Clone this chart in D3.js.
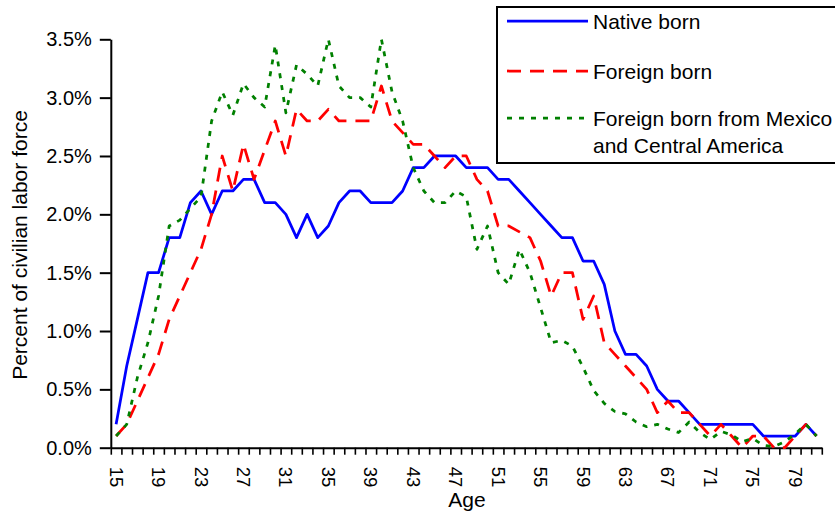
<!DOCTYPE html>
<html>
<head>
<meta charset="utf-8">
<script src="https://cdn.jsdelivr.net/npm/d3@7"></script>
<style>
  body { margin: 0; background: #fff; }
  svg { display: block; font-family: 'Liberation Sans', Arial, sans-serif; }
</style>
</head>
<body>
<svg id="chart" width="835" height="513"></svg>
<script>
// ages on the category axis
const ages = [15, 16, 17, 18, 19, 20, 21, 22, 23, 24, 25, 26, 27, 28, 29, 30,
    31, 32, 33, 34, 35, 36, 37, 38, 39, 40, 41, 42, 43, 44, 45, 46, 47, 48,
    49, 50, 51, 52, 53, 54, 55, 56, 57, 58, 59, 60, 61, 62, 63, 64, 65, 66,
    67, 68, 69, 70, 71, 72, 73, 74, 75, 76, 77, 78, 79, 80, 81];

const xLabels = [15, 19, 23, 27, 31, 35, 39, 43, 47, 51, 55, 59, 63, 67, 71, 75, 79];
const yTicks = [0, 0.5, 1, 1.5, 2, 2.5, 3, 3.5];

// percent of civilian labor force, one value per age
const nativeBorn = [0.2, 0.7, 1.1, 1.5, 1.5, 1.8, 1.8, 2.1, 2.2, 2.0, 2.2, 2.2,
    2.3, 2.3, 2.1, 2.1, 2.0, 1.8, 2.0, 1.8, 1.9, 2.1, 2.2, 2.2, 2.1, 2.1, 2.1,
    2.2, 2.4, 2.4, 2.5, 2.5, 2.5, 2.4, 2.4, 2.4, 2.3, 2.3, 2.2, 2.1, 2.0, 1.9,
    1.8, 1.8, 1.6, 1.6, 1.4, 1.0, 0.8, 0.8, 0.7, 0.5, 0.4, 0.4, 0.3, 0.2, 0.2,
    0.2, 0.2, 0.2, 0.2, 0.1, 0.1, 0.1, 0.1, 0.2, 0.1];

const foreignBorn = [0.1, 0.2, 0.4, 0.6, 0.8, 1.1, 1.3, 1.5, 1.7, 2.0, 2.5, 2.2,
    2.6, 2.3, 2.55, 2.8, 2.5, 2.9, 2.8, 2.8, 2.9, 2.8, 2.8, 2.8, 2.8, 3.1, 2.8,
    2.7, 2.6, 2.6, 2.5, 2.4, 2.5, 2.5, 2.3, 2.2, 1.9, 1.9, 1.85, 1.8, 1.6, 1.3,
    1.5, 1.5, 1.1, 1.3, 0.9, 0.8, 0.7, 0.6, 0.5, 0.3, 0.4, 0.3, 0.3, 0.2, 0.1,
    0.2, 0.1, 0.0, 0.1, 0.1, 0.0, 0.0, 0.1, 0.2, 0.1];

const mexicoCentralAmerica = [0.1, 0.2, 0.6, 0.9, 1.3, 1.9, 1.95, 2.05, 2.15,
    2.8, 3.05, 2.85, 3.12, 3.0, 2.92, 3.45, 2.87, 3.28, 3.2, 3.1, 3.5, 3.1, 3.0,
    3.0, 2.92, 3.5, 3.05, 2.8, 2.4, 2.2, 2.1, 2.1, 2.2, 2.15, 1.7, 1.9, 1.5,
    1.4, 1.7, 1.5, 1.2, 0.9, 0.92, 0.87, 0.69, 0.49, 0.38, 0.31, 0.29, 0.22,
    0.18, 0.2, 0.16, 0.13, 0.22, 0.13, 0.07, 0.14, 0.11, 0.05, 0.08, 0.02, 0.01,
    0.05, 0.12, 0.2, 0.1];

const series = [
    {name: ['Native born'], values: nativeBorn, color: '#0000ff', dash: null},
    {name: ['Foreign born'], values: foreignBorn, color: '#ff0000', dash: '14,9'},
    {name: ['Foreign born from Mexico', 'and Central America'], values: mexicoCentralAmerica, color: '#008000', dash: '5,7'}
];

const svg = d3.select('#chart');

svg.append('rect')
    .attr('width', 835)
    .attr('height', 513)
    .attr('fill', '#fff');

const plotLeft = 110.8;
const plotRight = 821.8;
const plotBottom = 447.7;
const plotTop = 39.3;

const xScale = d3.scaleBand()
    .domain(ages)
    .range([plotLeft, plotRight]);

const yScale = d3.scaleLinear()
    .domain([0, 3.5])
    .range([plotBottom, plotTop]);

// tick marks sit between categories, like the excel original
const xEdge = d3.scaleLinear()
    .domain([0, ages.length])
    .range([plotLeft, plotRight]);

const xTickAxis = d3.axisBottom(xEdge)
    .tickValues(d3.range(ages.length + 1))
    .tickFormat('')
    .tickSize(7)
    .tickSizeOuter(0);

const xTickG = svg.append('g')
    .attr('class', 'xAxis')
    .attr('transform', `translate(0,${plotBottom})`)
    .call(xTickAxis);

xTickG.select('.domain')
    .attr('stroke', '#000')
    .attr('stroke-width', 2);

xTickG.selectAll('.tick line')
    .attr('stroke', '#000')
    .attr('stroke-width', 1.6);

const xLabelAxis = d3.axisBottom(xScale)
    .tickValues(xLabels)
    .tickSize(0)
    .tickPadding(0);

const xLabelG = svg.append('g')
    .attr('class', 'xLabels')
    .attr('transform', `translate(0,${plotBottom})`)
    .call(xLabelAxis);

xLabelG.select('.domain').remove();

xLabelG.selectAll('text')
    .attr('x', 0)
    .attr('y', 0)
    .attr('dy', '0.35em')
    .attr('text-anchor', 'start')
    .attr('transform', 'translate(0,19) rotate(90)')
    .attr('font-family', "'Liberation Sans', Arial, sans-serif")
    .attr('font-size', 18.5)
    .attr('fill', '#000');

const yAxis = d3.axisLeft(yScale)
    .tickValues(yTicks)
    .tickFormat(d => d.toFixed(1) + '%')
    .tickSize(11)
    .tickPadding(8)
    .tickSizeOuter(0);

const yAxisG = svg.append('g')
    .attr('class', 'yAxis')
    .attr('transform', `translate(${plotLeft},0)`)
    .call(yAxis);

yAxisG.select('.domain')
    .attr('stroke', '#000')
    .attr('stroke-width', 2);

yAxisG.selectAll('.tick line')
    .attr('stroke', '#000')
    .attr('stroke-width', 2);

yAxisG.selectAll('text')
    .attr('dy', '0.33em')
    .attr('font-family', "'Liberation Sans', Arial, sans-serif")
    .attr('font-size', 20)
    .attr('fill', '#000');

// axis titles
svg.append('text')
    .attr('class', 'axis-label')
    .attr('transform', 'translate(26.7,245) rotate(-90)')
    .attr('text-anchor', 'middle')
    .attr('font-size', 21)
    .attr('fill', '#000')
    .text('Percent of civilian labor force');

svg.append('text')
    .attr('class', 'axis-label')
    .attr('x', 467)
    .attr('y', 507)
    .attr('text-anchor', 'middle')
    .attr('font-size', 21)
    .attr('fill', '#000')
    .text('Age');

// lines
const lineGen = values => d3.line()
    .x((d, i) => xScale(ages[i]) + xScale.bandwidth() / 2)
    .y(d => yScale(d))(values);

svg.append('g')
    .attr('class', 'lines')
    .selectAll('path')
    .data(series)
    .enter().append('path')
    .attr('d', d => lineGen(d.values))
    .attr('fill', 'none')
    .attr('stroke', d => d.color)
    .attr('stroke-width', 2.75)
    .attr('stroke-linejoin', 'round')
    .attr('stroke-dasharray', d => d.dash);

// legend box
const legend = svg.append('g')
    .attr('class', 'legend');

legend.append('rect')
    .attr('x', 497)
    .attr('y', 7)
    .attr('width', 360)
    .attr('height', 156)
    .attr('fill', '#fff')
    .attr('stroke', '#000')
    .attr('stroke-width', 2);

const legendRows = [21, 71, 118];

const rows = legend.selectAll('.legend-row')
    .data(series)
    .enter().append('g')
    .attr('class', 'legend-row')
    .attr('transform', (d, i) => `translate(0,${legendRows[i]})`);

rows.append('line')
    .attr('x1', 507)
    .attr('x2', 588)
    .attr('stroke', d => d.color)
    .attr('stroke-width', 2.75)
    .attr('stroke-dasharray', d => d.dash);

rows.selectAll('text')
    .data(d => d.name)
    .enter().append('text')
    .attr('x', 593)
    .attr('y', (d, i) => 7.8 + i * 27.6)
    .attr('font-size', 21)
    .attr('fill', '#000')
    .text(d => d);
</script>
</body>
</html>
